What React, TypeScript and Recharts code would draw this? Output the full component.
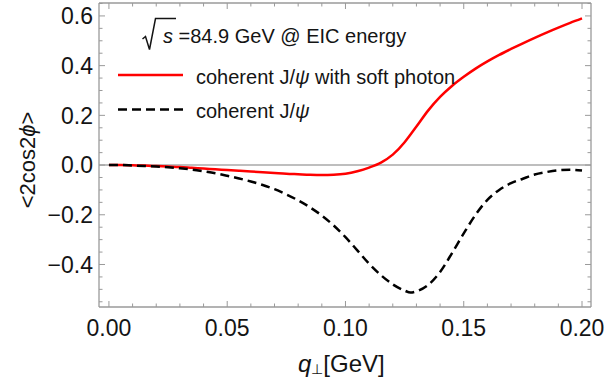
import React from 'react';
import { ComposedChart, Line, XAxis, YAxis, ReferenceLine, Legend } from 'recharts';

// q_perp values [GeV]
const qValues = [0, 0.005, 0.01, 0.015, 0.02, 0.025, 0.03, 0.035, 0.04, 0.045, 0.05, 0.055, 0.06, 0.065, 0.07, 0.075, 0.08, 0.085, 0.09, 0.095, 0.1, 0.105, 0.11, 0.115, 0.12, 0.125, 0.1275, 0.13, 0.135, 0.14, 0.145, 0.15, 0.155, 0.16, 0.165, 0.17, 0.175, 0.18, 0.185, 0.19, 0.195, 0.2];
// coherent J/psi with soft photon
const softPhoton = [0, 0, -0.001, -0.002, -0.004, -0.006, -0.008, -0.011, -0.014, -0.017, -0.02, -0.023, -0.026, -0.029, -0.032, -0.035, -0.037, -0.039, -0.04, -0.039, -0.035, -0.025, -0.01, 0.01, 0.042, 0.092, 0.123, 0.155, 0.22, 0.274, 0.318, 0.355, 0.388, 0.417, 0.443, 0.467, 0.49, 0.512, 0.533, 0.553, 0.572, 0.59];
// coherent J/psi
const coherent = [0, 0, -0.002, -0.004, -0.006, -0.009, -0.013, -0.018, -0.025, -0.033, -0.043, -0.054, -0.066, -0.08, -0.097, -0.118, -0.142, -0.17, -0.203, -0.243, -0.29, -0.343, -0.397, -0.443, -0.48, -0.505, -0.513, -0.508, -0.482, -0.43, -0.355, -0.275, -0.2, -0.14, -0.1, -0.073, -0.055, -0.038, -0.028, -0.021, -0.019, -0.022];

const xTicks = [0, 0.01, 0.02, 0.03, 0.04, 0.05, 0.06, 0.07, 0.08, 0.09, 0.1, 0.11, 0.12, 0.13, 0.14, 0.15, 0.16, 0.17, 0.18, 0.19, 0.2];
const xMajor = [0, 0.05, 0.1, 0.15, 0.2];
const xMajorLabels = ['0.00', '0.05', '0.10', '0.15', '0.20'];
const yTicks = [-0.55, -0.5, -0.45, -0.4, -0.35, -0.3, -0.25, -0.2, -0.15, -0.1, -0.05, 0, 0.05, 0.1, 0.15, 0.2, 0.25, 0.3, 0.35, 0.4, 0.45, 0.5, 0.55, 0.6, 0.65];
const yMajor = [-0.4, -0.2, 0, 0.2, 0.4, 0.6];
const yMajorLabels = ['\u22120.4', '\u22120.2', '0.0', '0.2', '0.4', '0.6'];

const seriesNames = ['coherent J/\u03c8 with soft photon', 'coherent J/\u03c8'];
const annotation = '=84.9 GeV @ EIC energy';

const data = qValues.map((q, i) => ({ q, soft: softPhoton[i], coh: coherent[i] }));

const X_DOMAIN: [number, number] = [-0.0042, 0.2038];
const Y_DOMAIN: [number, number] = [-0.571, 0.652];
const FRAME = '#9a9a9a';
const TXT = '#141414';
const FONT = '"Liberation Sans", Arial, Helvetica, sans-serif';

const majorIndex = (arr: number[], v: number) => arr.findIndex((m) => Math.abs(m - v) < 1e-9);

const BottomTick = (props: any) => {
  const { x, y, payload } = props;
  const idx = majorIndex(xMajor, payload.value);
  const major = idx >= 0;
  return (
    <g>
      <line x1={x} x2={x} y1={y} y2={y - (major ? 6 : 3.5)} stroke={FRAME} strokeWidth={1} />
      {major && (
        <text x={x} y={y + 28.5} textAnchor="middle" fontSize={23} fill={TXT} fontFamily={FONT}>
          {xMajorLabels[idx]}
        </text>
      )}
    </g>
  );
};

const TopTick = (props: any) => {
  const { x, y, payload } = props;
  const major = majorIndex(xMajor, payload.value) >= 0;
  return <line x1={x} x2={x} y1={y} y2={y + (major ? 6 : 3.5)} stroke={FRAME} strokeWidth={1} />;
};

const LeftTick = (props: any) => {
  const { x, y, payload } = props;
  const idx = majorIndex(yMajor, payload.value);
  const major = idx >= 0;
  return (
    <g>
      <line x1={x} x2={x + (major ? 6 : 3.5)} y1={y} y2={y} stroke={FRAME} strokeWidth={1} />
      {major && (
        <text x={x - 6} y={y + 8.2} textAnchor="end" fontSize={23} fill={TXT} fontFamily={FONT}>
          {yMajorLabels[idx]}
        </text>
      )}
    </g>
  );
};

const RightTick = (props: any) => {
  const { x, y, payload } = props;
  const major = majorIndex(yMajor, payload.value) >= 0;
  return <line x1={x} x2={x - (major ? 6 : 3.5)} y1={y} y2={y} stroke={FRAME} strokeWidth={1} />;
};

const renderName = (name: string) => {
  const parts = name.split('\u03c8');
  return parts.map((p, i) => (
    <React.Fragment key={i}>
      {p}
      {i < parts.length - 1 && <tspan fontStyle="italic">{'\u03c8'}</tspan>}
    </React.Fragment>
  ));
};

const LegendContent = (props: any) => {
  const payload = [...(props.payload || [])].sort(
    (a: any, b: any) => seriesNames.indexOf(a.value) - seriesNames.indexOf(b.value)
  );
  return (
    <svg width={605} height={130} style={{ display: 'block', overflow: 'visible' }}>
      <path d="M142.5,39 L145.5,36.5 L149.5,49.5 L155.5,18.5 L176,18.5" fill="none" stroke={TXT} strokeWidth={1.5} />
      <text x={163} y={43} fontSize={20} fill={TXT} fontFamily={FONT}>
        <tspan fontStyle="italic">s</tspan> {annotation}
      </text>
      {payload.map((entry: any, i: number) => {
        const cy = 75 + i * 34.5;
        return (
          <g key={i}>
            <line x1={118} x2={183} y1={cy} y2={cy} stroke={entry.color} strokeWidth={2.5}
              strokeDasharray={entry.payload && entry.payload.strokeDasharray ? entry.payload.strokeDasharray : undefined} />
            <text x={196} y={cy + 8.5} fontSize={20} fill={TXT} fontFamily={FONT}>
              {renderName(entry.value)}
            </text>
          </g>
        );
      })}
    </svg>
  );
};

const YLabel = () => (
  <text transform="translate(27,160) rotate(-90)" textAnchor="middle" dominantBaseline="central" fontSize={22} fill={TXT} fontFamily={FONT}>
    {'<2cos2'}<tspan fontStyle="italic">{'\u03d5'}</tspan>{'>'}
  </text>
);

const XLabel = () => (
  <text x={298} y={371.5} fontSize={24} fill={TXT} fontFamily={FONT}>
    <tspan fontStyle="italic">q</tspan>
    <tspan fontSize={14} dy={2.5}>{'\u22a5'}</tspan>
    <tspan dy={-2.5}>[GeV]</tspan>
  </text>
);

export default function App() {
  return (
    <div style={{ position: 'absolute', left: 0, top: 0, width: 605, height: 385, background: '#fff' }}>
      <ComposedChart width={605} height={385} data={data} margin={{ top: 0, right: 0, bottom: 0, left: 0 }}>
        <XAxis dataKey="q" type="number" domain={X_DOMAIN} ticks={xTicks} allowDataOverflow
          height={78} tickSize={0} tickMargin={0} tickLine={false} interval={0}
          axisLine={{ stroke: FRAME, strokeWidth: 1.3 }} tick={BottomTick} label={XLabel} />
        <XAxis xAxisId="top" orientation="top" dataKey="q" type="number" domain={X_DOMAIN} ticks={xTicks} allowDataOverflow
          height={3} tickSize={0} tickMargin={0} tickLine={false} interval={0}
          axisLine={{ stroke: FRAME, strokeWidth: 1.3 }} tick={TopTick} />
        <YAxis type="number" domain={Y_DOMAIN} ticks={yTicks} allowDataOverflow width={99}
          tickSize={0} tickMargin={0} tickLine={false} interval={0}
          axisLine={{ stroke: FRAME, strokeWidth: 1.3 }} tick={LeftTick} label={YLabel} />
        <YAxis yAxisId="right" orientation="right" type="number" domain={Y_DOMAIN} ticks={yTicks} allowDataOverflow width={14}
          tickSize={0} tickMargin={0} tickLine={false} interval={0}
          axisLine={{ stroke: FRAME, strokeWidth: 1.3 }} tick={RightTick} />
        <ReferenceLine y={0} stroke="#a8a8a8" strokeWidth={1.5} />
        <Legend layout="horizontal" verticalAlign="middle" align="center" content={LegendContent}
          wrapperStyle={{ position: 'absolute', left: 0, top: 0, width: 605, height: 130, pointerEvents: 'none' }} />
        <Line dataKey="soft" name={seriesNames[0]} type="monotone" stroke="#ff0000" strokeWidth={2.5} dot={false} isAnimationActive={false} />
        <Line dataKey="coh" name={seriesNames[1]} type="monotone" stroke="#000000" strokeWidth={2.5} strokeDasharray="9 5" dot={false} isAnimationActive={false} />
      </ComposedChart>
    </div>
  );
}
